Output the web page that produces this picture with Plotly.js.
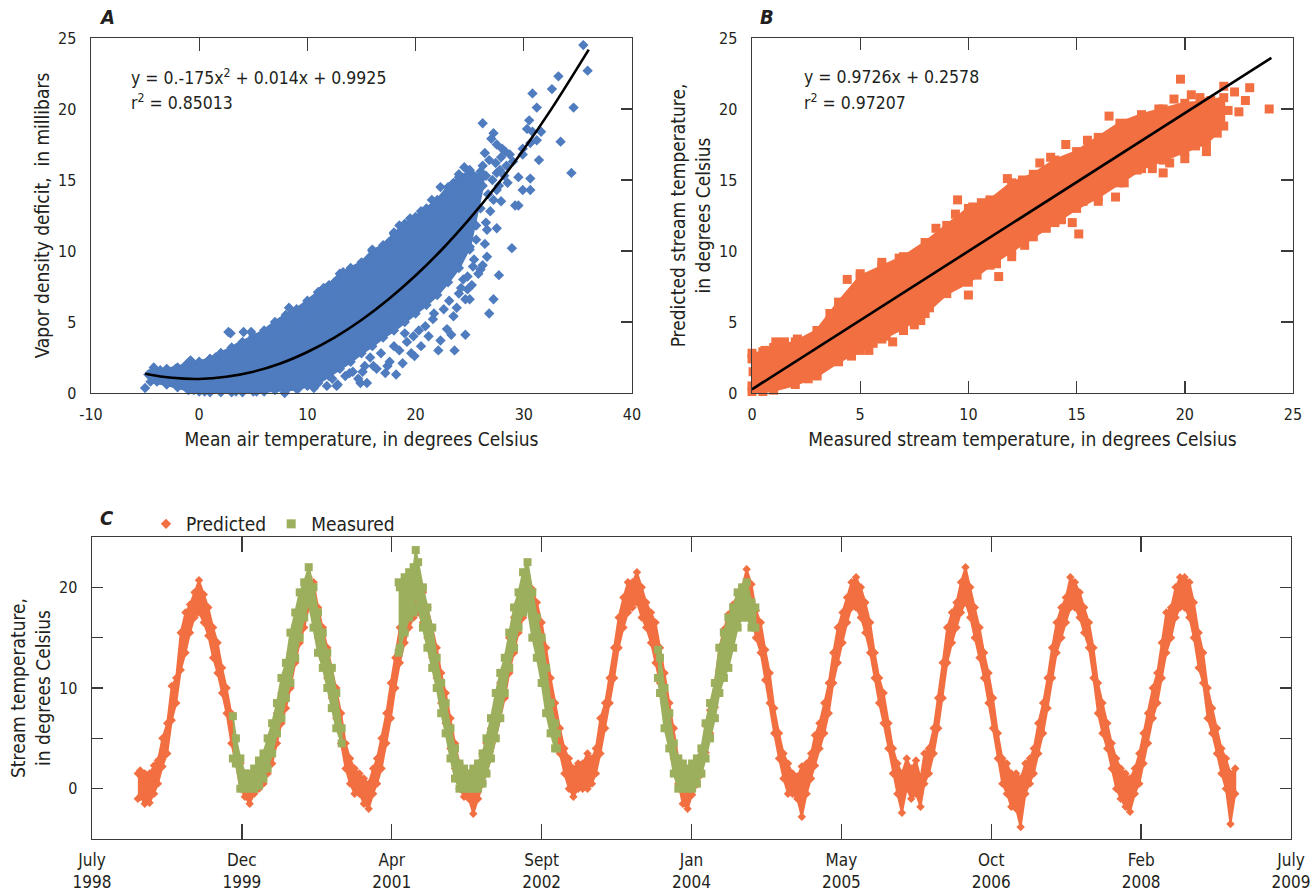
<!DOCTYPE html>
<html><head><meta charset="utf-8">
<script src="https://cdn.plot.ly/plotly-3.0.1.min.js"></script>
<style>html,body{margin:0;padding:0;background:#fff}#chart{width:1314px;height:894px}</style>
</head><body><div id="chart"></div>
<script>
// ---------------- Panel A: vapor density deficit vs mean air temperature ----------------
// dense core of the point cloud (lower / upper edge of the solid blue area)
const aCoreX    = [-4.5,-3,-2,-1,0,1,2,3,4,5,6,7,8,9,10,11,12,13,14,15,16,17,18,19,20,21,22,23,24,25,26.2];
const aCoreLow  = [0.8,0.6,0.4,0.2,0.1,0.05,0.05,0.05,0.05,0.1,0.1,0.2,0.2,0.3,0.5,0.7,1.2,1.7,2.2,2.8,3.3,3.9,4.4,5.0,5.6,6.2,6.9,7.8,8.8,10.3,14.6];
const aCoreHigh = [1.4,1.7,1.8,2.1,2.2,2.4,2.8,3.2,3.6,4.0,4.4,5.0,5.5,5.9,6.5,7.1,7.6,8.4,8.8,9.2,10.0,10.4,11.2,11.9,12.4,13.0,13.6,14.5,15.2,15.6,15.2];
// individual (edge / outlying) points
const aPtsX = [-5.0,-4.7,-4.2,-3.9,-3.6,-3.3,-2.5,-2.2,-2.0,-1.6,
  -1.2,-0.8,-0.5,0.2,0.5,1.0,1.5,2.0,2.7,2.9,
  3.5,4.1,4.8,5.5,6.0,6.5,7.5,8.3,9.0,9.5,
  10.5,11.0,11.5,12.0,12.5,13.3,14.0,14.5,15.5,16.0,
  16.5,17.0,17.5,18.0,18.5,19.0,19.5,20.0,20.5,21.0,
  21.5,22.0,22.3,23.0,23.5,24.0,24.5,25.0,25.5,26.0,
  26.4,26.2,27.2,27.0,27.5,27.9,28.3,28.7,27.5,27.7,
  29.5,29.9,30.5,30.3,30.8,30.6,31.2,31.6,29.5,30.6,
  30.6,29.9,29.2,28.9,27.7,27.2,26.8,26.6,26.4,26.6,
  27.5,26.0,25.8,24.8,24.6,24.6,23.6,23.3,22.1,20.5,
  19.9,18.8,18.2,17.2,15.5,14.9,12.7,11.8,10.6,9.2,
  7.9,5.3,3.4,30.8,31.2,32.6,33.2,33.4,34.4,34.6,
  35.5,35.9,29.9,31.4,18.0,17.4,19.0,19.6,20.9,21.7,
  22.3,22.9,23.5,24.0,24.4,25.0,25.4,25.0,25.6,16.1,
  15.1,13.9,12.3,12.8,13.5,14.2,14.7,15.3,15.8,16.4,
  16.8,17.6,18.5,19.2,19.8,20.3,21.2,21.6,22.6,23.1,
  23.8,24.2,24.8,25.3,25.2,26.2,26.5,26.9,27.2,27.5,
  27.9,28.2,28.5,26.7,26.0,25.6,26.2,26.5,26.8,27.1,
  27.4,27.8,28.0,28.4,29.0];
const aPtsY = [0.35,1.3,1.8,0.8,1.6,1.1,1.5,1.7,0.5,0.9,
  2.0,2.3,0.2,2.0,0.1,2.4,2.5,2.8,4.3,4.2,
  3.2,4.3,4.3,3.8,4.1,4.0,5.0,6.0,5.5,5.2,
  6.5,7.1,7.4,7.0,7.8,8.5,8.7,8.5,9.0,10.1,
  9.8,10.0,10.6,11.3,11.8,11.9,12.3,12.1,12.8,12.5,
  13.6,13.2,14.5,14.2,14.8,15.4,15.9,15.7,15.2,15.6,
  16.9,19.0,18.3,17.9,17.5,16.6,17.0,16.8,15.5,14.6,
  15.2,16.8,19.2,18.6,18.4,17.6,17.8,18.4,13.2,15.1,
  14.3,14.3,13.2,10.2,8.3,6.6,5.6,9.6,10.5,11.5,
  11.6,8.7,8.4,7.3,6.6,4.1,3.0,4.1,3.0,3.3,
  2.6,2.1,1.3,1.4,0.7,0.7,0.5,0.5,0.35,0.35,
  0.0,0.1,0.1,21.1,20.1,21.4,22.3,17.7,15.5,20.1,
  24.5,22.7,17.2,16.4,3.3,1.9,4.2,2.8,4.7,5.6,
  3.7,4.5,5.4,7.0,8.0,6.6,9.4,10.1,10.8,1.9,
  1.5,1.4,1.0,0.6,1.2,1.5,1.0,1.9,2.5,1.7,
  2.8,2.2,3.0,3.6,4.0,4.4,4.0,5.2,5.9,6.5,
  6.0,7.4,8.2,8.9,7.6,9.0,12.0,12.8,13.6,14.3,
  13.5,15.3,14.8,14.0,13.0,11.8,16.0,15.3,16.4,15.0,
  16.2,15.7,17.2,16.0,16.3];
// fitted curve y = 0.0175x^2 + 0.014x + 0.9925
const aCurveX = [-5,-2.5,0,2.5,5,7.5,10,12.5,15,17.5,20,22.5,25,27.5,30,32.5,36];
const aCurveY = [1.36,1.07,0.99,1.14,1.50,2.08,2.89,3.90,5.14,6.60,8.27,10.16,12.28,14.61,17.17,19.94,24.18];
const aXTicks = [-10,0,10,20,30,40];
const aXTickText = ['-10','0','10','20','30','40'];

// ---------------- Panel B: predicted vs measured stream temperature ----------------
const bCoreX    = [0,0.5,1,2,3,4,5,6,7,8,9,10,11,12,13,14,15,16,17,18,19,20,21,21.8];
const bCoreLow  = [0.1,0.1,0.2,0.6,1.2,2.2,3.0,3.8,4.6,5.6,7.0,7.8,9.0,10.0,11.0,12.0,13.0,13.8,14.8,15.8,16.4,17.0,17.6,18.8];
const bCoreHigh = [2.4,2.9,3.2,3.6,4.4,6.4,8.2,8.9,9.6,10.6,11.8,13.0,13.6,14.8,15.4,16.4,17.0,18.0,19.0,19.6,20.0,20.4,20.5,20.8];
const bPtsX = [0,0.05,0.1,0,0.3,0.6,1.1,1.5,1.8,2.1,
  2.4,2.6,3.0,3.4,3.6,3.9,4.2,4.4,4.6,4.8,
  5.0,5.2,5.4,5.6,5.8,6.0,6.2,6.5,6.8,7.0,
  7.2,7.5,7.8,8.0,8.2,8.5,8.7,9.0,9.2,9.4,
  9.5,9.8,10.0,10.2,10.4,10.6,11.0,11.3,11.4,11.8,
  12.0,12.5,12.6,13.0,13.3,13.6,13.8,14.3,14.5,14.8,
  15.1,15.3,15.5,16.0,16.3,16.5,16.8,17.2,17.4,17.8,
  18.0,18.5,18.8,19.0,19.3,19.5,19.8,20.0,20.3,20.5,
  20.8,21.0,21.3,21.5,21.8,22.0,22.3,22.5,22.8,23.0,
  23.9,21.2,20.7];
const bPtsY = [2.8,1.5,0.3,0.5,2.6,3.0,3.6,3.6,2.9,3.8,
  3.2,1.0,1.3,4.2,5.6,4.8,6.0,8.0,2.6,3.5,
  8.4,6.4,3.0,3.5,8.2,9.2,4.0,3.6,9.5,4.4,
  8.9,4.8,5.1,9.6,6.0,11.6,7.0,11.4,7.6,12.6,
  13.6,8.0,6.9,13.1,8.3,13.4,13.5,9.1,8.2,15.1,
  9.6,15.0,10.4,11.6,16.2,11.6,16.6,12.2,17.5,12.0,
  11.2,13.5,17.8,13.5,16.6,19.5,13.8,14.8,19.0,15.7,
  19.4,15.8,20.0,15.5,16.2,20.7,22.1,16.5,21.0,17.4,
  20.0,17.0,19.5,18.3,21.6,19.9,21.2,19.8,20.6,21.5,
  20.0,20.6,20.8];
// regression line y = 0.9726x + 0.2578 (end points as drawn)
const bFitX = [0, 24];
const bFitY = [0.26, 23.6];

// ---------------- Panel C: stream temperature time series ----------------
// predicted daily values summarised as the lower / upper edge of the band, twice a month
const predDates = ['1998-12-24',
 '1999-01-01','1999-01-16','1999-02-01','1999-02-16','1999-03-01','1999-03-16','1999-04-01','1999-04-16','1999-05-01','1999-05-16','1999-06-01','1999-06-16','1999-07-01','1999-07-16','1999-08-01','1999-08-16','1999-09-01','1999-09-16','1999-10-01','1999-10-16','1999-11-01','1999-11-16','1999-12-01','1999-12-16',
 '2000-01-01','2000-01-16','2000-02-01','2000-02-16','2000-03-01','2000-03-16','2000-04-01','2000-04-16','2000-05-01','2000-05-16','2000-06-01','2000-06-16','2000-07-01','2000-07-16','2000-08-01','2000-08-16','2000-09-01','2000-09-16','2000-10-01','2000-10-16','2000-11-01','2000-11-16','2000-12-01','2000-12-16',
 '2001-01-01','2001-01-16','2001-02-01','2001-02-16','2001-03-01','2001-03-16','2001-04-01','2001-04-16','2001-05-01','2001-05-16','2001-06-01','2001-06-16','2001-07-01','2001-07-16','2001-08-01','2001-08-16','2001-09-01','2001-09-16','2001-10-01','2001-10-16','2001-11-01','2001-11-16','2001-12-01','2001-12-16',
 '2002-01-01','2002-01-16','2002-02-01','2002-02-16','2002-03-01','2002-03-16','2002-04-01','2002-04-16','2002-05-01','2002-05-16','2002-06-01','2002-06-16','2002-07-01','2002-07-16','2002-08-01','2002-08-16','2002-09-01','2002-09-16','2002-10-01','2002-10-16','2002-11-01','2002-11-16','2002-12-01','2002-12-16',
 '2003-01-01','2003-01-16','2003-02-01','2003-02-16','2003-03-01','2003-03-16','2003-04-01','2003-04-16','2003-05-01','2003-05-16','2003-06-01','2003-06-16','2003-07-01','2003-07-16','2003-08-01','2003-08-16','2003-09-01','2003-09-16','2003-10-01','2003-10-16','2003-11-01','2003-11-16','2003-12-01','2003-12-16',
 '2004-01-01','2004-01-16','2004-02-01','2004-02-16','2004-03-01','2004-03-16','2004-04-01','2004-04-16','2004-05-01','2004-05-16','2004-06-01','2004-06-16','2004-07-01','2004-07-16','2004-08-01','2004-08-16','2004-09-01','2004-09-16','2004-10-01','2004-10-16','2004-11-01','2004-11-16','2004-12-01','2004-12-16',
 '2005-01-01','2005-01-16','2005-02-01','2005-02-16','2005-03-01','2005-03-16','2005-04-01','2005-04-16','2005-05-01','2005-05-16','2005-06-01','2005-06-16','2005-07-01','2005-07-16','2005-08-01','2005-08-16','2005-09-01','2005-09-16','2005-10-01','2005-10-16','2005-11-01','2005-11-16','2005-12-01','2005-12-16',
 '2006-01-01','2006-01-16','2006-02-01','2006-02-16','2006-03-01','2006-03-16','2006-04-01','2006-04-16','2006-05-01','2006-05-16','2006-06-01','2006-06-16','2006-07-01','2006-07-16','2006-08-01','2006-08-16','2006-09-01','2006-09-16','2006-10-01','2006-10-16','2006-11-01','2006-11-16','2006-12-01','2006-12-16',
 '2007-01-01','2007-01-16','2007-02-01','2007-02-16','2007-03-01','2007-03-16','2007-04-01','2007-04-16','2007-05-01','2007-05-16','2007-06-01','2007-06-16','2007-07-01','2007-07-16','2007-08-01','2007-08-16','2007-09-01','2007-09-16','2007-10-01','2007-10-16','2007-11-01','2007-11-16','2007-12-01','2007-12-16',
 '2008-01-01','2008-01-16','2008-02-01','2008-02-16','2008-03-01','2008-03-16','2008-04-01','2008-04-16','2008-05-01','2008-05-16','2008-06-01','2008-06-16','2008-07-01','2008-07-16','2008-08-01','2008-08-16','2008-09-01','2008-09-16','2008-10-01','2008-10-16','2008-11-01','2008-11-16','2008-12-01','2008-12-16',
 '2009-01-01'];
const predLow = [-1.0,
 -0.8,-1.5,-1.4,-0.5,0.5,2.2,3.5,6.8,8.5,11.8,13.5,15.5,17.0,17.5,16.5,15.2,13.0,11.5,9.5,7.5,4.5,2.5,0.0,-0.8,
 -1.5,-0.5,0.0,0.5,1.5,2.5,4.5,6.5,8.0,10.0,12.5,14.5,16.0,18.0,17.5,15.0,13.0,11.0,9.0,7.0,4.5,2.0,0.5,-0.5,
 -0.5,-1.5,-2.0,-0.5,0.5,2.0,4.5,7.0,10.0,12.5,14.5,16.0,17.0,17.5,16.5,15.0,13.0,11.0,8.5,6.5,4.0,2.0,0.0,-0.8,
 -1.0,-2.5,-1.0,0.5,1.5,3.0,5.0,7.0,9.0,11.5,13.5,15.5,17.0,18.0,17.0,15.0,13.0,10.5,8.0,5.5,3.5,1.5,0.0,-0.8,
 0.0,0.0,0.0,0.5,1.5,3.5,6.0,8.5,11.0,14.0,16.0,17.5,18.0,18.5,17.0,16.0,14.5,12.5,10.5,8.5,5.5,3.0,0.5,-1.5,
 -2.0,-0.6,0.4,1.4,3.6,5.5,8.1,10.8,13.4,14.5,16.2,17.0,18.3,19.5,17.4,15.0,13.5,10.8,8.5,5.5,3.0,1.0,-0.5,-0.5,
 -1.0,-2.8,-0.5,1.0,2.3,4.0,5.5,7.5,10.5,12.5,14.5,16.5,18.0,18.0,17.0,15.5,13.5,11.0,8.5,6.5,4.0,1.5,-0.5,-2.4,
 0.0,-1.0,-0.5,-1.8,0.5,1.5,3.5,6.0,9.0,12.5,14.5,16.0,17.5,18.5,17.0,15.0,13.0,11.0,8.5,6.0,3.0,0.5,-0.5,-1.8,
 -2.0,-3.8,-0.5,0.5,1.5,3.5,5.5,8.0,11.0,13.5,15.0,16.5,18.0,18.0,17.0,15.5,14.0,11.0,7.5,5.5,4.0,2.0,0.0,-1.0,
 -1.8,-2.3,-0.5,0.5,2.5,4.5,7.0,8.5,11.0,13.5,15.0,17.0,18.0,18.0,17.0,15.0,12.0,10.5,7.0,5.5,3.5,1.5,0.0,-3.5,
 -0.5];
const predHigh = [1.5,
 1.8,1.5,1.5,2.3,2.8,5.0,6.5,10.2,11.0,15.5,17.5,18.3,19.5,20.7,19.3,18.0,16.0,14.5,12.0,10.0,7.5,5.0,2.5,1.5,
 1.0,1.5,2.5,3.0,4.0,5.5,7.5,9.5,11.5,13.5,16.0,17.5,19.0,21.0,20.5,18.0,16.0,14.0,12.0,10.0,7.5,4.5,3.0,2.0,
 1.5,1.0,0.5,2.0,3.0,5.0,7.5,10.5,13.0,16.0,18.0,19.0,20.0,20.5,19.5,18.0,16.0,14.0,11.5,9.5,7.0,4.5,2.5,1.5,
 1.5,1.0,2.5,3.5,4.5,6.0,8.0,10.5,12.0,15.0,17.0,18.5,20.0,20.5,19.8,18.5,16.5,14.0,11.0,8.5,6.0,4.0,3.0,2.0,
 2.5,2.5,3.5,3.0,4.0,7.0,8.5,11.0,14.0,17.0,19.0,20.5,20.5,21.5,20.0,18.5,17.5,16.5,14.0,11.5,8.5,6.0,3.0,1.0,
 1.5,1.6,2.7,3.4,6.3,7.8,10.5,14.0,15.8,17.3,18.3,19.3,20.0,21.8,20.3,17.7,16.5,13.8,11.5,8.0,5.5,3.5,2.5,1.5,
 1.2,2.2,2.5,3.5,5.3,6.5,8.5,10.5,13.5,16.0,17.5,19.0,20.5,21.0,20.0,18.5,16.5,13.5,11.0,9.5,6.5,4.0,2.5,1.5,
 3.0,2.0,2.8,1.0,3.5,4.0,6.0,9.0,12.5,16.0,17.5,18.5,20.5,22.0,20.0,18.0,16.0,13.5,11.5,9.0,5.5,3.0,2.5,1.5,
 1.5,1.0,2.5,3.0,4.0,6.5,8.5,11.0,14.0,16.5,18.0,19.0,21.0,20.5,19.5,18.0,16.5,14.0,10.5,8.5,6.5,4.5,3.0,2.0,
 1.5,1.0,2.0,3.5,5.5,7.5,10.0,11.5,14.5,17.5,18.0,20.0,21.0,21.0,20.5,18.5,15.5,13.5,10.0,8.0,6.0,4.0,3.0,1.5,
 2.0];
// measured values (three monitoring periods, gaps marked with null)
const measDates = [
 '1999-11-06','1999-11-16','1999-12-01','1999-12-16','2000-01-01','2000-01-16','2000-02-01','2000-02-16','2000-03-01','2000-03-16','2000-04-01','2000-04-16','2000-05-01','2000-05-16','2000-06-01','2000-06-16','2000-07-01','2000-07-16','2000-08-01','2000-08-16','2000-09-01','2000-09-16','2000-10-01','2000-10-16','2000-11-03',
 null,
 '2001-05-12','2001-05-16','2001-06-01','2001-06-16','2001-07-01','2001-07-08','2001-07-16','2001-08-01','2001-08-16','2001-09-01','2001-09-16','2001-10-01','2001-10-16','2001-11-01','2001-11-16','2001-12-01','2001-12-16','2002-01-01','2002-01-16','2002-02-01','2002-02-16','2002-03-01','2002-03-16','2002-04-01','2002-04-16','2002-05-01','2002-05-16','2002-06-01','2002-06-16','2002-07-01','2002-07-16','2002-08-01','2002-08-16','2002-09-01','2002-09-16','2002-10-01','2002-10-16','2002-10-22',
 null,
 '2003-09-24','2003-10-01','2003-10-16','2003-11-01','2003-11-16','2003-12-01','2003-12-16','2004-01-01','2004-01-16','2004-02-01','2004-02-16','2004-03-01','2004-03-16','2004-04-01','2004-04-16','2004-05-01','2004-05-16','2004-06-01','2004-06-16','2004-07-01','2004-07-16','2004-08-01','2004-08-14'];
const measLow = [
 3.0,2.5,0.0,0.0,0.0,0.0,0.3,1.0,2.0,3.5,5.5,7.0,9.0,10.5,13.0,15.0,17.0,18.5,16.0,13.5,12.0,10.0,8.0,6.0,4.5,
 null,
 13.5,14.0,15.5,17.0,17.5,19.5,18.0,16.0,14.0,12.0,10.0,7.5,5.5,3.0,1.0,0.0,0.0,0.0,0.0,0.0,0.5,1.5,3.0,5.0,7.0,9.5,12.0,14.0,16.0,17.5,18.0,15.0,13.0,10.5,7.5,5.5,4.0,4.0,
 null,
 11.0,9.5,6.0,4.0,1.5,0.0,0.0,0.0,0.0,0.5,1.5,3.0,5.0,7.0,9.5,11.0,12.0,14.0,16.0,17.0,17.0,16.0,16.0];
const measHigh = [
 7.2,5.0,3.0,1.5,1.5,2.0,2.8,3.5,5.0,6.5,8.5,11.0,12.5,15.5,17.5,19.5,20.5,22.0,20.0,17.5,15.5,13.5,12.0,9.5,6.0,
 null,
 20.5,20.0,21.0,21.5,22.0,23.7,22.5,20.0,18.0,16.0,13.0,10.5,8.5,6.0,4.0,2.5,2.0,1.5,2.0,2.5,3.5,5.0,7.0,9.5,11.5,13.0,15.5,18.0,19.5,21.5,22.5,19.5,17.0,15.0,12.0,8.5,6.5,5.5,
 null,
 13.8,13.0,10.0,7.5,4.5,3.0,2.5,2.0,2.5,3.0,4.0,6.5,8.5,10.5,14.0,15.5,17.0,18.0,19.5,20.0,20.5,18.5,18.0];
const cTickDates = ['1998-07-24','1999-12-06','2001-04-19','2002-09-01','2004-01-14','2005-05-28','2006-10-10','2008-02-22','2009-07-06'];
const cTickText  = ['July<br>1998','Dec<br>1999','Apr<br>2001','Sept<br>2002','Jan<br>2004','May<br>2005','Oct<br>2006','Feb<br>2008','July<br>2009'];
const cYTicks = [0,10,20];
const cYTickText = ['0','10','20'];
const cYMinorTicks = [5,15];

// ---------------- styling ----------------
const W = 1314, H = 894;
const px = v => v / W, py = v => 1 - v / H;
const BLUE = '#4F7BBF', ORANGE = '#F26F41', GREEN = '#9CAF5D', INK = '#231F20', FRAME = '#3a3a3a';
const FONT = '"DejaVu Sans Condensed", "Liberation Sans Narrow", sans-serif';

function bandPoly(xs, lo, hi) {
  return { x: xs.concat(xs.slice().reverse()), y: lo.concat(hi.slice().reverse()) };
}
function segments(xs, lo, hi) {
  const out = []; let cur = { x: [], lo: [], hi: [] };
  xs.forEach((d, i) => {
    if (d === null) { if (cur.x.length) out.push(cur); cur = { x: [], lo: [], hi: [] }; }
    else { cur.x.push(d); cur.lo.push(lo[i]); cur.hi.push(hi[i]); }
  });
  if (cur.x.length) out.push(cur);
  return out;
}

const traces = [];
// A
const aPoly = bandPoly(aCoreX, aCoreLow, aCoreHigh);
traces.push({ x: aPoly.x, y: aPoly.y, mode: 'lines', fill: 'toself', fillcolor: BLUE, line: { color: BLUE, width: 3 }, xaxis: 'x', yaxis: 'y', showlegend: false, hoverinfo: 'skip' });
traces.push({ x: aCoreX.concat(aCoreX), y: aCoreLow.concat(aCoreHigh), mode: 'markers', marker: { symbol: 'diamond', size: 8, color: BLUE }, xaxis: 'x', yaxis: 'y', showlegend: false, cliponaxis: false });
traces.push({ x: aPtsX, y: aPtsY, mode: 'markers', marker: { symbol: 'diamond', size: 8, color: BLUE }, xaxis: 'x', yaxis: 'y', showlegend: false, cliponaxis: false });
traces.push({ x: aCurveX, y: aCurveY, mode: 'lines', line: { color: '#000', width: 2.6, shape: 'spline' }, xaxis: 'x', yaxis: 'y', showlegend: false });
traces.push({ x: [null], y: [null], xaxis: 'x4', yaxis: 'y4', showlegend: false, hoverinfo: 'skip' });
// B
const bPoly = bandPoly(bCoreX, bCoreLow, bCoreHigh);
traces.push({ x: bPoly.x, y: bPoly.y, mode: 'lines', fill: 'toself', fillcolor: ORANGE, line: { color: ORANGE, width: 3 }, xaxis: 'x2', yaxis: 'y2', showlegend: false, hoverinfo: 'skip' });
traces.push({ x: bCoreX.concat(bCoreX), y: bCoreLow.concat(bCoreHigh), mode: 'markers', marker: { symbol: 'square', size: 9, color: ORANGE }, xaxis: 'x2', yaxis: 'y2', showlegend: false, cliponaxis: false });
traces.push({ x: bPtsX, y: bPtsY, mode: 'markers', marker: { symbol: 'square', size: 9, color: ORANGE }, xaxis: 'x2', yaxis: 'y2', showlegend: false, cliponaxis: false });
traces.push({ x: bFitX, y: bFitY, mode: 'lines', line: { color: '#000', width: 2.6 }, xaxis: 'x2', yaxis: 'y2', showlegend: false });
traces.push({ x: [null], y: [null], xaxis: 'x2', yaxis: 'y5', showlegend: false, hoverinfo: 'skip' });
// C predicted
const pPoly = bandPoly(predDates, predLow, predHigh);
traces.push({ x: pPoly.x, y: pPoly.y, mode: 'lines', fill: 'toself', fillcolor: ORANGE, line: { color: ORANGE, width: 2 }, xaxis: 'x3', yaxis: 'y3', showlegend: false, hoverinfo: 'skip' });
traces.push({ x: predDates, y: predLow, mode: 'markers', marker: { symbol: 'diamond', size: 6.5, color: ORANGE }, xaxis: 'x3', yaxis: 'y3', showlegend: false });
traces.push({ x: predDates, y: predHigh, mode: 'markers', marker: { symbol: 'diamond', size: 6.5, color: ORANGE }, xaxis: 'x3', yaxis: 'y3', showlegend: false });
// C measured
segments(measDates, measLow, measHigh).forEach(s => {
  const p = bandPoly(s.x, s.lo, s.hi);
  traces.push({ x: p.x, y: p.y, mode: 'lines', fill: 'toself', fillcolor: GREEN, line: { color: GREEN, width: 2 }, xaxis: 'x3', yaxis: 'y3', showlegend: false, hoverinfo: 'skip' });
});
traces.push({ x: measDates, y: measLow, mode: 'markers', marker: { symbol: 'square', size: 8, color: GREEN }, xaxis: 'x3', yaxis: 'y3', showlegend: false });
traces.push({ x: measDates, y: measHigh, mode: 'markers', marker: { symbol: 'square', size: 8, color: GREEN }, xaxis: 'x3', yaxis: 'y3', showlegend: false });
// legend entries (marker symbols at the size shown in the key)
traces.push({ name: 'Predicted', x: [null], y: [null], mode: 'markers', marker: { symbol: 'diamond', size: 8, color: ORANGE }, xaxis: 'x3', yaxis: 'y3', showlegend: true });
traces.push({ name: 'Measured', x: [null], y: [null], mode: 'markers', marker: { symbol: 'square', size: 9, color: GREEN }, xaxis: 'x3', yaxis: 'y3', showlegend: true });

const tickFont = { family: FONT, size: 16, color: INK };
const titleFont = { family: FONT, size: 19, color: INK };
const eqFont = { family: FONT, size: 17.5, color: INK };
const labFont = { family: FONT, size: 20, color: INK };
const frame = { showline: true, linecolor: FRAME, linewidth: 1.4, showgrid: false, zeroline: false, tickcolor: FRAME, tickwidth: 1.4, tickfont: tickFont, fixedrange: true };

const layout = {
  width: W, height: H, margin: { l: 0, r: 0, t: 0, b: 0 },
  paper_bgcolor: '#fff', plot_bgcolor: '#fff',
  font: { family: FONT, size: 17, color: INK },
  showlegend: true,
  legend: { orientation: 'h', x: px(146), y: py(505), xanchor: 'left', yanchor: 'top', font: { family: FONT, size: 19, color: INK }, bgcolor: 'rgba(0,0,0,0)', tracegroupgap: 0 },
  // Panel A
  xaxis: Object.assign({}, frame, { domain: [px(91), px(632)], anchor: 'y', range: [-10, 40], tickmode: 'array', tickvals: aXTicks, ticktext: aXTickText, ticks: '', mirror: true, ticklabelstandoff: 6,
    title: { text: 'Mean air temperature, in degrees Celsius', font: titleFont, standoff: 10 } }),
  yaxis: Object.assign({}, frame, { domain: [py(393), py(38)], anchor: 'x', range: [0, 25], dtick: 5, ticks: '', mirror: true, ticklabelstandoff: 10,
    title: { text: 'Vapor density deficit,  in millibars', font: titleFont, standoff: 3 } }),
  xaxis4: Object.assign({}, frame, { overlaying: 'x', side: 'top', anchor: 'y', range: [-10, 40], tickmode: 'array', tickvals: [0, 10, 20, 30], ticks: 'inside', ticklen: 13, showticklabels: false, showline: false }),
  yaxis4: Object.assign({}, frame, { overlaying: 'y', side: 'right', anchor: 'x', range: [0, 25], tickmode: 'array', tickvals: [5, 10, 15, 20], ticks: 'inside', ticklen: 11, showticklabels: false, showline: false }),
  // Panel B
  xaxis2: Object.assign({}, frame, { domain: [px(752), px(1293)], anchor: 'y2', range: [0, 25], dtick: 5, ticks: 'inside', ticklen: 12, mirror: 'ticks', ticklabelstandoff: 6,
    title: { text: 'Measured stream temperature, in degrees Celsius', font: titleFont, standoff: 10 } }),
  yaxis2: Object.assign({}, frame, { domain: [py(393), py(38)], anchor: 'x2', range: [0, 25], dtick: 5, ticks: '', mirror: true, ticklabelstandoff: 10,
    title: { text: 'Predicted stream temperature,<br>in degrees Celsius', font: titleFont, standoff: 3 } }),
  yaxis5: Object.assign({}, frame, { overlaying: 'y2', side: 'right', anchor: 'x2', range: [0, 25], tickmode: 'array', tickvals: [5, 10, 15, 20], ticks: 'inside', ticklen: 12, showticklabels: false, showline: false }),
  // Panel C
  xaxis3: Object.assign({}, frame, { domain: [px(92), px(1291)], anchor: 'y3', type: 'date', range: ['1998-07-24', '2009-07-06'], tickmode: 'array', tickvals: cTickDates, ticktext: cTickText, ticks: 'inside', ticklen: 15, mirror: 'ticks', ticklabelstandoff: 5,
    tickfont: { family: FONT, size: 17, color: INK } }),
  yaxis3: Object.assign({}, frame, { domain: [py(839), py(537)], anchor: 'x3', range: [-5, 25], tickmode: 'array', tickvals: cYTicks, ticktext: cYTickText, ticks: 'inside', ticklen: 11, mirror: 'ticks', ticklabelstandoff: 10,
    minor: { tickmode: 'array', tickvals: cYMinorTicks, ticks: 'inside', ticklen: 11, tickcolor: FRAME, tickwidth: 1.4, showgrid: false },
    title: { text: 'Stream temperature,<br>in degrees Celsius', font: titleFont, standoff: 3 } }),
  annotations: [
    { text: '<b><i>A</i></b>', xref: 'paper', yref: 'paper', x: px(107), y: py(17), xanchor: 'center', yanchor: 'middle', showarrow: false, font: labFont },
    { text: '<b><i>B</i></b>', xref: 'paper', yref: 'paper', x: px(767), y: py(17), xanchor: 'center', yanchor: 'middle', showarrow: false, font: labFont },
    { text: '<b><i>C</i></b>', xref: 'paper', yref: 'paper', x: px(107), y: py(518), xanchor: 'center', yanchor: 'middle', showarrow: false, font: labFont },
    { text: 'y = 0.-175x<sup>2</sup> + 0.014x + 0.9925', xref: 'paper', yref: 'paper', x: px(129), y: py(77), xanchor: 'left', yanchor: 'middle', showarrow: false, font: eqFont },
    { text: 'r<sup>2</sup> = 0.85013', xref: 'paper', yref: 'paper', x: px(129), y: py(102), xanchor: 'left', yanchor: 'middle', showarrow: false, font: eqFont },
    { text: 'y = 0.9726x + 0.2578', xref: 'paper', yref: 'paper', x: px(802), y: py(77), xanchor: 'left', yanchor: 'middle', showarrow: false, font: eqFont },
    { text: 'r<sup>2</sup> = 0.97207', xref: 'paper', yref: 'paper', x: px(802), y: py(102), xanchor: 'left', yanchor: 'middle', showarrow: false, font: eqFont }
  ]
};

Plotly.newPlot('chart', traces, layout, { staticPlot: true, displayModeBar: false });
</script></body></html>
